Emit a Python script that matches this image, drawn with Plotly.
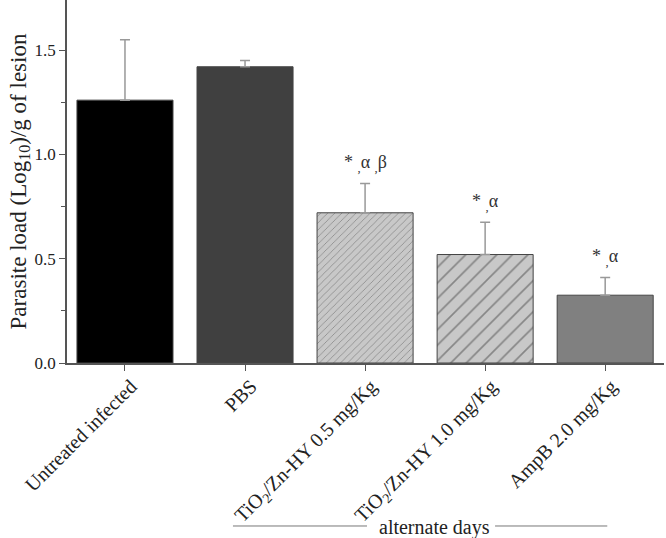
import plotly.graph_objects as go

categories = ["Untreated infected", "PBS", "TiO<sub>2</sub>/Zn-HY 0.5 mg/Kg",
              "TiO<sub>2</sub>/Zn-HY 1.0 mg/Kg", "AmpB 2.0 mg/Kg"]
values = [1.26, 1.42, 0.72, 0.52, 0.325]
err_upper = [0.29, 0.03, 0.14, 0.155, 0.085]
sig_labels = ["* <sub>,</sub>α <sub>,</sub>β", "* <sub>,</sub>α", "* <sub>,</sub>α"]
sig_index = [2, 3, 4]

colors = ["#000000", "#404040", "#c8c8c8", "#c8c8c8", "#808080"]
pattern_shapes = ["", "", "/", "/", ""]
pattern_sizes = [8, 8, 5, 11, 8]

x = list(range(len(categories)))
font = "Liberation Serif, Times New Roman, serif"

fig = go.Figure()
fig.add_trace(go.Bar(
    x=x, y=values, width=0.8,
    marker=dict(color=colors, line=dict(color="#444444", width=1),
                pattern=dict(shape=pattern_shapes, size=pattern_sizes, solidity=0.15,
                             fgcolor="#555555", fillmode="overlay")),
    error_y=dict(type="data", symmetric=False, array=err_upper,
                 arrayminus=[0] * len(values), color="#999999", thickness=1.5, width=5),
    showlegend=False,
))

for i, s in zip(sig_index, sig_labels):
    fig.add_annotation(x=x[i], y=values[i] + err_upper[i], text=s, showarrow=False, yshift=20,
                       font=dict(family=font, size=18, color="#333333"))

fig.add_annotation(x=0.615, y=-0.452, xref="paper", yref="paper", text="alternate days",
                   yanchor="middle", xanchor="center",
                   showarrow=False, font=dict(family=font, size=20, color="#222222"))
fig.add_shape(type="line", xref="paper", yref="paper", x0=0.278, x1=0.5025, y0=-0.449, y1=-0.449,
              line=dict(color="#777777", width=1))
fig.add_shape(type="line", xref="paper", yref="paper", x0=0.717, x1=0.905, y0=-0.449, y1=-0.449,
              line=dict(color="#777777", width=1))

fig.update_layout(
    width=666, height=538,
    margin=dict(l=67, r=2, t=0, b=175),
    plot_bgcolor="white", paper_bgcolor="white",
    font=dict(family=font, size=18, color="#222222"),
    xaxis=dict(tickmode="array", tickvals=x, ticktext=categories, tickangle=-45,
               range=[-0.483, 4.49], showline=True, linecolor="#555555", linewidth=1.5,
               ticks="outside", ticklen=6, tickcolor="#555555", showgrid=False, zeroline=False,
               tickfont=dict(family=font, size=20), automargin=False,
               ticklabelshift=6, ticklabelstandoff=-4),
    yaxis=dict(range=[0, 1.74], tickvals=[0, 0.5, 1.0, 1.5], ticktext=["0.0", "0.5", "1.0", "1.5"],
               showline=True, linecolor="#555555", linewidth=1.5, ticks="outside", ticklen=6,
               tickcolor="#555555", showgrid=False, zeroline=False, automargin=False,
               minor=dict(tickvals=[0.25, 0.75, 1.25], ticks="outside", ticklen=4, tickcolor="#555555"),
               title=dict(text="Parasite load (Log<sub>10</sub>)/g of lesion", standoff=2,
                          font=dict(family=font, size=23)),
               tickfont=dict(family=font, size=17)),
)

fig.write_html("out.html", config={"displayModeBar": False},
               post_script="document.body.style.margin='0';")
